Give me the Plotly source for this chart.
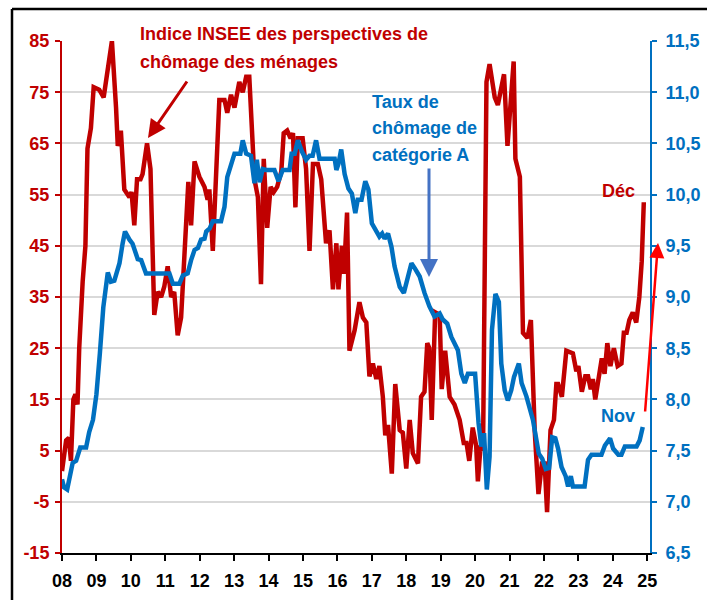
import plotly.graph_objects as go

# ---- Data (decimal years since 2008) ----
insee_t = [0.00, 0.04, 0.12, 0.20, 0.26, 0.33, 0.39, 0.45, 0.50, 0.60, 0.68, 0.74, 0.84, 0.92,
           1.08, 1.21, 1.33, 1.45, 1.57, 1.62, 1.71, 1.81, 1.96, 2.02, 2.10, 2.18, 2.28, 2.34,
           2.47, 2.57, 2.68, 2.78, 2.88, 2.97, 3.07, 3.17, 3.26, 3.36, 3.46, 3.60, 3.67, 3.75,
           3.85, 3.99, 4.14, 4.23, 4.28, 4.38, 4.48, 4.57, 4.72, 4.80, 4.91, 5.01, 5.15, 5.25,
           5.35, 5.44, 5.59, 5.69, 5.78, 5.86, 5.96, 6.06, 6.15, 6.25, 6.37, 6.44, 6.54, 6.64,
           6.71, 6.78, 6.85, 6.99, 7.09, 7.19, 7.29, 7.43, 7.53, 7.67, 7.77, 7.87, 7.97, 8.03,
           8.13, 8.19, 8.28, 8.35, 8.50, 8.64, 8.74, 8.84, 8.93, 9.03, 9.13, 9.22, 9.32, 9.39,
           9.47, 9.58, 9.68, 9.81, 9.90, 10.00, 10.10, 10.19, 10.34, 10.43, 10.53, 10.61, 10.67,
           10.74, 10.84, 10.97, 11.03, 11.13, 11.26, 11.40, 11.55, 11.67, 11.75, 11.83, 11.93,
           12.03, 12.08, 12.16, 12.23, 12.33, 12.42, 12.57, 12.66, 12.84, 12.94, 13.03, 13.12,
           13.17, 13.30, 13.39, 13.52, 13.62, 13.73, 13.84, 13.94, 14.02, 14.09, 14.19, 14.29,
           14.36, 14.41, 14.52, 14.65, 14.84, 14.94, 15.00, 15.10, 15.20, 15.28, 15.36, 15.42,
           15.49, 15.61, 15.68, 15.76, 15.84, 15.93, 16.03, 16.14, 16.25, 16.32, 16.40, 16.48,
           16.58, 16.68, 16.77, 16.84, 16.90]
insee_v = [1, 3, 7, 7.5, 3, 15, 16, 14, 25, 38, 45, 64, 68, 76,
           75.5, 74, 79, 85, 72, 64.5, 67.5, 56, 54.5, 55.5, 49, 58, 58, 59,
           65, 60, 31.5, 36, 35, 37, 41, 35, 36, 27.5, 31, 50.5, 57.5, 49,
           61.5, 58.5, 56.5, 54, 56, 44, 60, 73.5, 73.5, 71, 74.5, 72, 77, 75,
           78, 78, 58, 54.5, 37.5, 62, 48.5, 56.5, 55.5, 56.5, 59.5, 67, 67.5, 66,
           67, 52.5, 66, 66, 60, 44, 61, 61, 58, 45.5, 48, 36.5, 45.5, 36.5,
           45, 39.5, 51.5, 24.5, 28.5, 34, 31, 30, 19.5, 22, 19, 21.5, 15.5, 8,
           10, 0.5, 18, 9, 8.5, 1.5, 11, 4.5, 2.5, 15.5, 16.5, 26, 25,
           11, 32, 31.5, 17, 24.5, 15.5, 14, 11, 6.5, 6.5, 3, 9.5,
           6, -1, 6, 5, 77, 80.5, 74, 72.5, 78.5, 64.5, 74, 81,
           62, 58.5, 28, 27, 30.5, 9, -3.5, 2.5, 2.5, -7, 9, 11,
           18, 18, 15.5, 24.5, 24, 20.5, 21.5, 16.5, 19.5, 19.5, 17, 19,
           15, 20, 23, 20, 26, 21.5, 25, 21.5, 22, 28, 28, 30.5,
           32, 30, 35, 42, 53.5]

cat_a_t = [0.00, 0.06, 0.15, 0.25, 0.31, 0.41, 0.53, 0.70, 0.79, 0.90, 1.00, 1.10, 1.20, 1.33,
           1.42, 1.52, 1.67, 1.76, 1.83, 1.96, 2.05, 2.20, 2.30, 2.44, 2.78, 3.12, 3.22, 3.41,
           3.51, 3.65, 3.75, 3.85, 3.95, 4.04, 4.14, 4.19, 4.29, 4.38, 4.62, 4.72, 4.80, 4.91,
           5.01, 5.18, 5.25, 5.35, 5.49, 5.59, 5.66, 5.74, 5.83, 5.93, 6.17, 6.29, 6.41, 6.61,
           6.67, 6.76, 6.85, 6.97, 7.09, 7.19, 7.28, 7.38, 7.48, 7.92, 7.97, 8.03, 8.11, 8.21,
           8.32, 8.42, 8.52, 8.59, 8.70, 8.81, 8.90, 9.00, 9.13, 9.22, 9.30, 9.37, 9.47, 9.57,
           9.66, 9.81, 9.93, 10.05, 10.15, 10.25, 10.39, 10.53, 10.67, 10.82, 10.97, 11.06, 11.19,
           11.31, 11.45, 11.50, 11.60, 11.70, 11.79, 12.00, 12.10, 12.18, 12.26, 12.34, 12.42,
           12.49, 12.59, 12.69, 12.76, 12.86, 12.95, 13.05, 13.13, 13.27, 13.35, 13.49, 13.68,
           13.85, 13.95, 14.05, 14.15, 14.24, 14.33, 14.41, 14.51, 14.63, 14.70, 14.78, 14.84,
           15.18, 15.28, 15.38, 15.67, 15.77, 15.92, 16.01, 16.16, 16.25, 16.35, 16.69, 16.78,
           16.87]
cat_a_v = [7.22, 7.14, 7.12, 7.30, 7.38, 7.40, 7.53, 7.53, 7.68, 7.80, 8.05, 8.45, 8.90, 9.24,
           9.15, 9.16, 9.33, 9.52, 9.64, 9.56, 9.52, 9.37, 9.36, 9.23, 9.23, 9.23, 9.13, 9.13,
           9.21, 9.23, 9.36, 9.46, 9.48, 9.56, 9.57, 9.64, 9.67, 9.74, 9.74, 9.88, 10.17, 10.31,
           10.40, 10.40, 10.53, 10.40, 10.38, 10.11, 10.34, 10.12, 10.25, 10.24, 10.24, 10.13, 10.24, 10.24,
           10.40, 10.40, 10.53, 10.42, 10.34, 10.38, 10.38, 10.53, 10.35, 10.35, 10.24, 10.30, 10.44, 10.20,
           10.06, 10.01, 9.82, 9.95, 9.95, 10.13, 10.05, 9.72, 9.64, 9.59, 9.62, 9.57, 9.62, 9.49,
           9.30, 9.10, 9.04, 9.20, 9.33, 9.28, 9.20, 9.04, 8.91, 8.81, 8.84, 8.78, 8.74,
           8.61, 8.51, 8.48, 8.25, 8.16, 8.25, 8.25, 7.77, 7.54, 7.67, 7.12, 7.44,
           8.68, 9.03, 8.95, 8.35, 8.09, 7.99, 8.09, 8.22, 8.35, 8.16, 8.03, 7.80,
           7.47, 7.42, 7.32, 7.33, 7.63, 7.62, 7.52, 7.34, 7.25, 7.15, 7.25, 7.15,
           7.15, 7.41, 7.46, 7.46, 7.55, 7.62, 7.52, 7.46, 7.46, 7.54, 7.54, 7.60,
           7.73]

start_year = 2008
year_ticks = list(range(2008, 2026))
year_labels = ["08", "09", "10", "11", "12", "13", "14", "15", "16", "17",
               "18", "19", "20", "21", "22", "23", "24", "25"]
left_ticks = [85, 75, 65, 55, 45, 35, 25, 15, 5, -5, -15]
left_labels = ["85", "75", "65", "55", "45", "35", "25", "15", "5", "-5", "-15"]
right_ticks = [11.5, 11.0, 10.5, 10.0, 9.5, 9.0, 8.5, 8.0, 7.5, 7.0, 6.5]
right_labels = ["11,5", "11,0", "10,5", "10,0", "9,5", "9,0", "8,5", "8,0", "7,5", "7,0", "6,5"]

RED = "#C00000"
BLUE = "#0070C0"
FONT = "Liberation Sans, Arial, sans-serif"

fig = go.Figure()
fig.add_trace(go.Scatter(x=[start_year + t for t in insee_t], y=insee_v, mode="lines",
                         line=dict(color=RED, width=4.5), yaxis="y", hoverinfo="skip"))
fig.add_trace(go.Scatter(x=[start_year + t for t in cat_a_t], y=cat_a_v, mode="lines",
                         line=dict(color=BLUE, width=4.5, shape="linear"), yaxis="y2",
                         hoverinfo="skip"))

W, H = 707, 600
L, R, T, B = 62, 57, 41, 47

fig.update_layout(
    width=W, height=H,
    margin=dict(l=L, r=R, t=T, b=B, autoexpand=False),
    paper_bgcolor="white", plot_bgcolor="white",
    showlegend=False,
    xaxis=dict(range=[2008, 2025.08], tickvals=year_ticks, ticktext=year_labels,
               showgrid=False, zeroline=False, showline=True, linecolor="black", linewidth=2,
               ticks="outside", ticklen=6, tickwidth=2, tickcolor="black",
               ticklabelstandoff=4,
               tickfont=dict(family=FONT, size=18, color="black", weight="bold")),
    yaxis=dict(range=[-15, 85], tickvals=left_ticks, ticktext=left_labels,
               showgrid=True, gridcolor="#D9D9D9", gridwidth=2, zeroline=False,
               showline=True, linecolor=RED, linewidth=2,
               ticks="outside", ticklen=5, tickwidth=2, tickcolor=RED,
               ticklabelstandoff=2,
               tickfont=dict(family=FONT, size=18, color=RED, weight="bold")),
    yaxis2=dict(range=[6.5, 11.5], tickvals=right_ticks, ticktext=right_labels,
                overlaying="y", side="right", showgrid=False, zeroline=False,
                showline=True, linecolor=BLUE, linewidth=2,
                ticks="outside", ticklen=5, tickwidth=2, tickcolor=BLUE,
                ticklabelstandoff=5,
                tickfont=dict(family=FONT, size=18, color=BLUE, weight="bold")),
)

pw, ph = W - L - R, H - T - B


def px(xp):
    return (xp - L) / pw


def py(yp):
    return (H - B - yp) / ph


# Outer frame (top and left edges visible in the reference)
fig.add_shape(type="line", xref="paper", yref="paper",
              x0=px(12), x1=px(707), y0=py(9), y1=py(9),
              line=dict(color="black", width=2.5), layer="above")
fig.add_shape(type="line", xref="paper", yref="paper",
              x0=px(12), x1=px(12), y0=py(9), y1=py(600),
              line=dict(color="black", width=2.5), layer="above")

def txt(text, x, y, color, xanchor="left"):
    fig.add_annotation(text=text, xref="paper", yref="paper", x=x, y=y,
                       xanchor=xanchor, yanchor="middle", showarrow=False,
                       font=dict(family=FONT, size=18, color=color, weight="bold"))

txt("Indice INSEE des perspectives de", px(138), py(34), RED)
txt("chômage des ménages", px(138), py(62), RED)
txt("Taux de", px(370), py(102), BLUE)
txt("chômage de", px(370), py(128), BLUE)
txt("catégorie A", px(370), py(155), BLUE)
txt("Déc", px(637), py(191), RED, "right")
txt("Nov", px(637), py(416), BLUE, "right")

def arrow(hx, hy, tx, ty, color, w):
    fig.add_annotation(text="", xref="paper", yref="paper", x=px(hx), y=py(hy),
                       ax=tx - hx, ay=ty - hy, showarrow=True, arrowhead=2,
                       arrowsize=1.2, arrowwidth=w, arrowcolor=color, standoff=0)

arrow(148, 138, 188, 80, RED, 3)
arrow(429, 277, 429, 167, "#4472C4", 3)
arrow(658, 243, 645, 413, "#FF0000", 2.5)

fig.write_html("out.html", config={"displayModeBar": False},
               post_script="document.body.style.margin='0';document.body.style.overflow='hidden';")
